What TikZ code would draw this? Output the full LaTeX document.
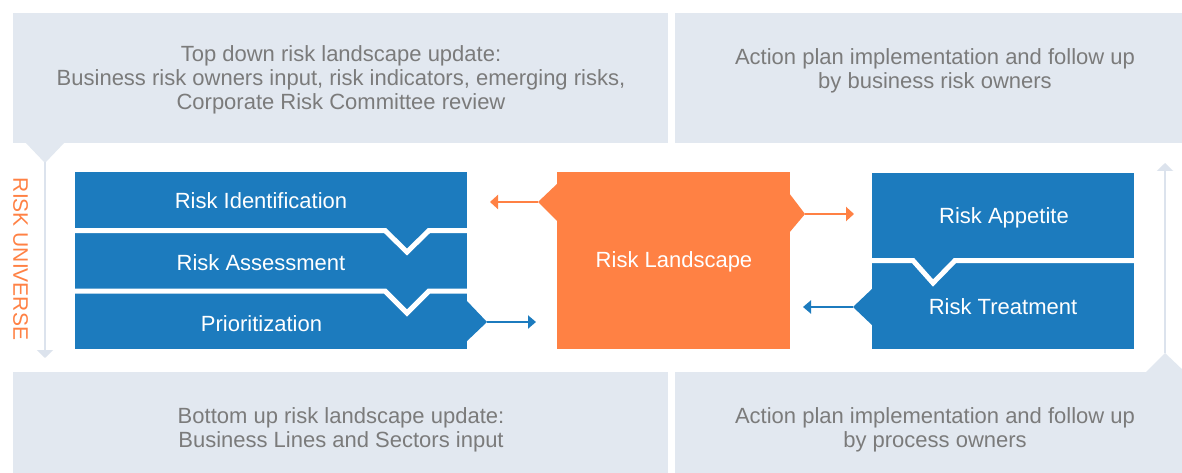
\documentclass[tikz,border=0pt]{standalone}
\usepackage{fontspec}
\setmainfont{Liberation Sans}
\usetikzlibrary{arrows.meta}
\definecolor{rblue}{HTML}{1C7BBE}
\definecolor{rorange}{HTML}{FF8144}
\definecolor{panelc}{HTML}{E2E8F0}
\definecolor{ptext}{HTML}{7B7B7B}
\definecolor{glinec}{HTML}{DCE3ED}
\tikzset{
  panelbox/.style={fill=panelc, draw=none, inner sep=0pt, anchor=north west},
  bluebox/.style={fill=rblue, draw=none, inner sep=0pt, anchor=north west},
  orangebox/.style={fill=rorange, draw=none, inner sep=0pt, anchor=north west},
  paneltext/.style={text=ptext, align=center, inner sep=0pt, font=\fontsize{22}{24}\selectfont},
  boxtext/.style={text=white, inner sep=0pt, font=\fontsize{22}{24}\selectfont},
  sep/.style={draw=white, line width=5pt, line join=miter},
  bluearrow/.style={draw=rblue, line width=2pt, -{Triangle[length=8pt,width=13pt]}},
  orangearrow/.style={draw=rorange, line width=2pt, -{Triangle[length=8pt,width=14pt]}},
  greyarrow/.style={draw=glinec, line width=2pt, -{Triangle[length=8pt,width=16pt]}}
}
\begin{document}
\begin{tikzpicture}[x=1pt,y=-1pt]
\useasboundingbox (0,0) rectangle (1182,473);
\fill[white] (0,0) rectangle (1182,473);
% panels
\node[panelbox, minimum width=655pt, minimum height=130pt] (ptl) at (13,13) {};
\node[panelbox, minimum width=520pt, minimum height=130pt] (ptr) at (675,13) {};
\node[panelbox, minimum width=655pt, minimum height=105pt] (pbl) at (13,372) {};
\node[panelbox, minimum width=520pt, minimum height=105pt] (pbr) at (675,372) {};
\fill[panelc] (25,142) -- (65,142) -- (45,163) -- cycle;
\fill[panelc] (1145,373) -- (1186,373) -- (1165,353) -- cycle;
\node[paneltext] (ttl) at (341,80) {Top down risk landscape update:\\Business risk owners input, risk indicators, emerging risks,\\Corporate Risk Committee review};
\node[paneltext] (ttr) at (935,71) {Action plan implementation and follow up\\by business risk owners};
\node[paneltext] (tbl) at (341,430) {Bottom up risk landscape update:\\Business Lines and Sectors input};
\node[paneltext] (tbr) at (935,430) {Action plan implementation and follow up\\by process owners};
% vertical lines
\coordinate (lstart) at (45,162);
\coordinate (lend) at (45,358);
\draw[greyarrow] (lstart) -- (lend);
\coordinate (rstart) at (1165,353);
\coordinate (rend) at (1165,163);
\draw[greyarrow] (rstart) -- (rend);
\node[rotate=-90, text=rorange, inner sep=0pt, font=\fontsize{21}{21}\selectfont] (ru) at (20.5,259) {RISK UNIVERSE};
% left blue boxes
\node[bluebox, minimum width=392pt, minimum height=58pt] (rid) at (75,172) {};
\node[bluebox, minimum width=392pt, minimum height=61pt] (ras) at (75,230) {};
\node[bluebox, minimum width=392pt, minimum height=58pt] (pri) at (75,291) {};
\draw[sep] (74,230.5) -- (385,230.5) -- (407,252) -- (429,230.5) -- (468,230.5);
\draw[sep] (74,291) -- (385,291) -- (407,313) -- (429,291) -- (468,291);
\node[boxtext] (tid) at (261,201) {Risk Identification};
\node[boxtext] (tas) at (261,263) {Risk Assessment};
\node[boxtext] (tpr) at (261.5,324) {Prioritization};
\fill[rblue] (466,300) -- (487,322) -- (466,342) -- cycle;
\coordinate (ptip) at (487,322);
\coordinate (pend) at (536,322);
\draw[bluearrow] (ptip) -- (pend);
% orange
\node[orangebox, minimum width=233pt, minimum height=177pt] (land) at (557,172) {};
\node[boxtext] (tland) at (674,262) {Risk Landscape};
\fill[rorange] (558,183) -- (538,202) -- (558,222) -- cycle;
\fill[rorange] (789,193) -- (805,214) -- (789,233) -- cycle;
\coordinate (oltip) at (538,202);
\coordinate (olend) at (490,202);
\draw[orangearrow] (oltip) -- (olend);
\coordinate (ortip) at (805,214);
\coordinate (orend) at (854,214);
\draw[orangearrow] (ortip) -- (orend);
% right blue boxes
\node[bluebox, minimum width=262pt, minimum height=88pt] (app) at (872,173) {};
\node[bluebox, minimum width=262pt, minimum height=89pt] (trt) at (872,260) {};
\draw[sep] (871,260.5) -- (913,260.5) -- (933,283) -- (955,260.5) -- (1135,260.5);
\node[boxtext] (tapp) at (1004,217.5) {Risk Appetite};
\node[boxtext] (ttrt) at (1003,307) {Risk Treatment};
\fill[rblue] (873,288) -- (853,307) -- (873,326) -- cycle;
\coordinate (ttip) at (853,307);
\coordinate (tend) at (803,307);
\draw[bluearrow] (ttip) -- (tend);
\end{tikzpicture}
\end{document}
